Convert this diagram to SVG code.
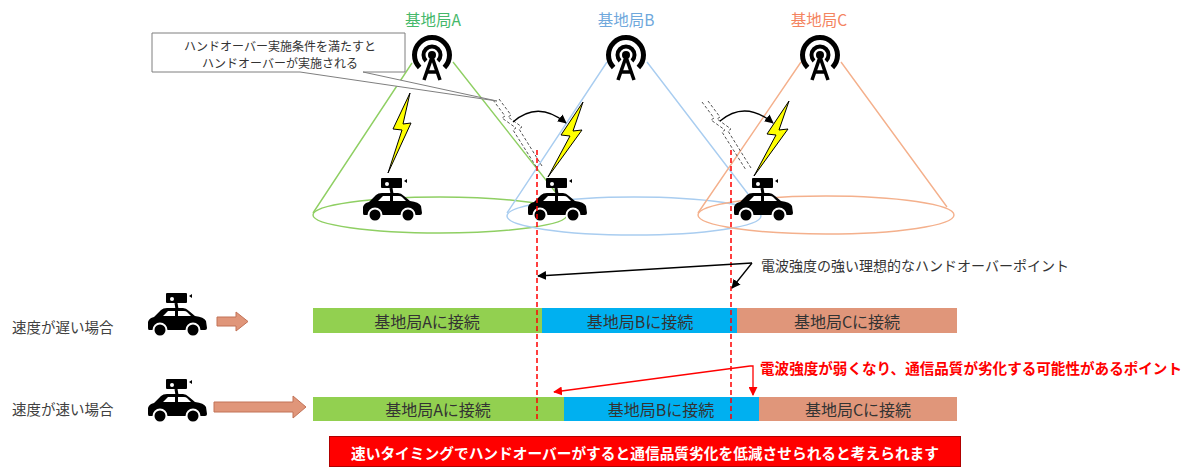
<svg xmlns="http://www.w3.org/2000/svg" xmlns:xlink="http://www.w3.org/1999/xlink" width="1191" height="468" viewBox="0 0 1191 468">
  <style>
    text { font-family: "Noto Sans CJK JP", "Noto Sans", sans-serif; dominant-baseline: central; }
    .lbl { font-size: 15.5px; text-anchor: middle; }
    .bar-t { font-size: 16px; fill: #333; text-anchor: middle; }
    .side { font-size: 14.5px; fill: #404040; }
    .cone { fill: none; stroke-width: 1.4; }
    .bolt { fill: #ffff00; stroke: #000; stroke-width: 1; stroke-linejoin: miter; }
    .weak { fill: none; stroke: #555; stroke-width: 1; stroke-dasharray: 3 2; }
    .hand { fill: none; stroke: #ff0000; stroke-width: 1.5; stroke-dasharray: 5 3; }
    .blk { fill: none; stroke: #000; stroke-width: 1.3; }
    .red { fill: none; stroke: #ff0000; stroke-width: 1.3; }
    .move { fill: #e0967a; stroke: #c27257; stroke-width: 1; }
  </style>
  <defs>
    <marker id="ah-black" viewBox="0 0 10 10" refX="9" refY="5" markerWidth="9" markerHeight="9" markerUnits="userSpaceOnUse" orient="auto">
      <path d="M0,0 L10,5 L0,10 Z" fill="#000"/>
    </marker>
    <marker id="ah-red" viewBox="0 0 10 10" refX="9" refY="5" markerWidth="9" markerHeight="9" markerUnits="userSpaceOnUse" orient="auto">
      <path d="M0,0 L10,5 L0,10 Z" fill="#ff0000"/>
    </marker>
    <!-- radio mast icon, origin at the centre dot -->
    <g id="antenna">
      <path d="M-12.4,12.4 A17.5,17.5 0 1 1 12.4,12.4" fill="none" stroke="#000" stroke-width="5"/>
      <path d="M-6,6 A8.5,8.5 0 1 1 6,6" fill="none" stroke="#000" stroke-width="4"/>
      <circle r="4" fill="#000"/>
      <path d="M0,2 L-8,25 M0,2 L8,25 M-5,17 L5,17" fill="none" stroke="#000" stroke-width="3.5"/>
    </g>
    <!-- car with roof camera, 60 x 45 -->
    <g id="car">
      <rect x="19" y="1" width="21" height="10" rx="1" fill="#000"/>
      <circle cx="25" cy="7" r="2" fill="#fff"/>
      <path d="M42,4 L45,2 L45,6 Z" fill="#000"/>
      <path d="M29,11 L30,17" stroke="#000" stroke-width="3"/>
      <path d="M1,36 L1,30 Q2,26 7,25 L14,18 Q16,16 20,16 L36,16 Q39,16 42,19 L48,24 Q57,25 59,29 L60,36 Q60,38 58,38 L2,38 Q1,38 1,36 Z" fill="#000"/>
      <path d="M16,24 L21,19 L28,19 L28,24 Z M31,19 L37,19 Q39,19 40,20 L44,24 L31,24 Z" fill="#fff"/>
      <circle cx="13" cy="38" r="6.5" fill="#000" stroke="#fff" stroke-width="2"/>
      <circle cx="46" cy="38" r="6.5" fill="#000" stroke="#fff" stroke-width="2"/>
    </g>
    <!-- broken (weakening) link -->
    <g id="weak-link">
      <polyline class="weak" points="493,100 505,116 502,118 516,128 513,130 537,168"/>
      <polyline class="weak" points="499,99 511,115 508,117 522,127 519,129 542,166"/>
    </g>
  </defs>

  <rect width="1191" height="468" fill="#fff"/>

  <!-- coverage areas -->
  <g id="cell-a">
    <ellipse cx="440" cy="215" rx="127" ry="18" class="cone" stroke="#8fcf63"/>
    <path d="M412,63 L313,213 M453,62 L568,208" class="cone" stroke="#8fcf63"/>
  </g>
  <g id="cell-b">
    <ellipse cx="634" cy="216" rx="127" ry="19" class="cone" stroke="#a9cdf0"/>
    <path d="M607,62 L507,213 M647,62 L758,207" class="cone" stroke="#a9cdf0"/>
  </g>
  <g id="cell-c">
    <ellipse cx="826" cy="215" rx="128" ry="19" class="cone" stroke="#f4b08c"/>
    <path d="M801,62 L698,213 M841,62 L947,207" class="cone" stroke="#f4b08c"/>
  </g>

  <!-- base stations -->
  <g id="station-a">
    <text x="433" y="19" class="lbl" fill="#45b86a">基地局A</text>
    <use xlink:href="#antenna" x="432" y="55"/>
  </g>
  <g id="station-b">
    <text x="626" y="19" class="lbl" fill="#6fa8dc">基地局B</text>
    <use xlink:href="#antenna" x="626" y="55"/>
  </g>
  <g id="station-c">
    <text x="819" y="19" class="lbl" fill="#f4845f">基地局C</text>
    <use xlink:href="#antenna" x="820" y="55"/>
  </g>

  <!-- vehicles in the cells -->
  <g id="car-a"><use xlink:href="#car" x="362" y="177"/></g>
  <g id="car-b"><use xlink:href="#car" x="527" y="177"/></g>
  <g id="car-c"><use xlink:href="#car" x="733" y="177"/></g>

  <!-- radio links -->
  <g id="links">
    <polygon class="bolt" points="410,93 393,129 402,130 388,173 411,123 403,124"/>
    <polygon class="bolt" points="583,102 561,135 570,136 548,177 582,130 573,131"/>
    <polygon class="bolt" points="789,101 767,134 776,135 754,176 788,129 779,130"/>
    <use xlink:href="#weak-link"/>
    <use xlink:href="#weak-link" transform="translate(209,2)"/>
  </g>

  <!-- callout -->
  <g id="callout">
    <path d="M152,33 H405 V72 H363 L497,101 L300,72 H152 Z" fill="#fff" stroke="#7f7f7f" stroke-width="1"/>
    <text x="280" y="45" font-size="12" fill="#333" text-anchor="middle">ハンドオーバー実施条件を満たすと</text>
    <text x="280" y="62" font-size="12" fill="#333" text-anchor="middle">ハンドオーバーが実施される</text>
  </g>

  <!-- connection timelines -->
  <g id="row-slow">
    <text x="12" y="326" class="side">速度が遅い場合</text>
    <use xlink:href="#car" x="147" y="292"/>
    <path class="move" d="M217,317 H236 V312 L248,321.5 L236,331 V326 H217 Z"/>
    <rect x="313" y="308" width="229" height="25" fill="#92d050"/>
    <rect x="542" y="308" width="195" height="25" fill="#00b0f0"/>
    <rect x="737" y="308" width="220" height="25" fill="#e0967a"/>
    <text x="427" y="321" class="bar-t">基地局Aに接続</text>
    <text x="640" y="321" class="bar-t">基地局Bに接続</text>
    <text x="847" y="321" class="bar-t">基地局Cに接続</text>
  </g>
  <g id="row-fast">
    <text x="12" y="408" class="side">速度が速い場合</text>
    <use xlink:href="#car" x="147" y="378"/>
    <path class="move" d="M214,402 H293 V396 L306,407 L293,418 V412 H214 Z"/>
    <rect x="313" y="397" width="251" height="24" fill="#92d050"/>
    <rect x="564" y="397" width="195" height="24" fill="#00b0f0"/>
    <rect x="759" y="397" width="198" height="24" fill="#e0967a"/>
    <text x="438" y="409" class="bar-t">基地局Aに接続</text>
    <text x="661" y="409" class="bar-t">基地局Bに接続</text>
    <text x="858" y="409" class="bar-t">基地局Cに接続</text>
  </g>

  <!-- handover points and pointers -->
  <g id="connectors">
    <line x1="537" y1="150" x2="537" y2="421" class="hand"/>
    <line x1="731" y1="150" x2="731" y2="421" class="hand"/>
    <path d="M513,122 Q538,100 566,123" class="blk" marker-end="url(#ah-black)"/>
    <path d="M720,121 Q745,100 773,123" class="blk" marker-end="url(#ah-black)"/>
    <path d="M752,263 L538,276" class="blk" marker-end="url(#ah-black)"/>
    <path d="M752,263 L732,288" class="blk" marker-end="url(#ah-black)"/>
    <path d="M750,366 L554,392" class="red" marker-end="url(#ah-red)"/>
    <path d="M750,366 L753,366 L753,395" class="red" marker-end="url(#ah-red)"/>
  </g>

  <g id="notes">
    <text x="761" y="265" font-size="14" fill="#333" textLength="308" lengthAdjust="spacingAndGlyphs">電波強度の強い理想的なハンドオーバーポイント</text>
    <text x="760" y="367" font-size="14.5" font-weight="bold" fill="#ff0000" textLength="422" lengthAdjust="spacingAndGlyphs">電波強度が弱くなり、通信品質が劣化する可能性があるポイント</text>
  </g>

  <g id="summary">
    <rect x="329.5" y="436.5" width="631" height="30" fill="#ff0000" stroke="#b00000" stroke-width="1"/>
    <text x="645" y="452" font-size="15" font-weight="bold" fill="#fff" text-anchor="middle" textLength="588" lengthAdjust="spacingAndGlyphs">速いタイミングでハンドオーバーがすると通信品質劣化を低減させられると考えられます</text>
  </g>
</svg>
